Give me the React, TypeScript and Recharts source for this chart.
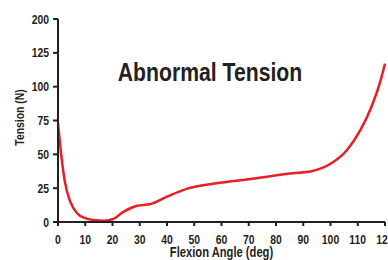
import { LineChart, Line, XAxis, YAxis } from 'recharts'

// flexion angle (deg) and tension (N)
const angles = [0, 1, 2.5, 4.5, 7, 10, 13, 17, 20, 24, 29, 34, 40, 48, 58, 70, 86, 93, 100, 106, 111, 115, 118, 120]
const tension = [73, 53, 30, 15, 6.5, 2.8, 1.5, 1, 2, 7.5, 12, 13.3, 18.7, 25, 28.6, 31.6, 36, 37.5, 43, 53, 68, 85, 102, 117]

const xTicks = [0, 10, 20, 30, 40, 50, 60, 70, 80, 90, 100, 110, 120]
// the top tick sits one step above 125 but is labelled 200 in the original
const yTicks = [0, 25, 50, 75, 100, 125, 150]
const yTickLabels = ['0', '25', '50', '75', '100', '125', '200']

const data = angles.map((a, i) => ({ angle: a, tension: tension[i] }))

const ink = '#231f20'
const font = '"Liberation Sans", Arial, Helvetica, sans-serif'
const squeeze = 0.8 // no narrow face installed, so squash the regular bold

function Narrow({ x, y, anchor, size, dy, rotate, children }: any) {
  const rot = rotate ? ` rotate(${rotate})` : ''
  return (
    <text
      x={0}
      y={0}
      dy={dy}
      transform={`translate(${x},${y})${rot} scale(${squeeze},1)`}
      textAnchor={anchor}
      fontFamily={font}
      fontWeight={700}
      fontSize={size}
      fill={ink}
    >
      {children}
    </text>
  )
}

const XTick = ({ x, y, payload }: any) => (
  <Narrow x={x} y={y} anchor="middle" size={13} dy="0.71em">
    {payload.value}
  </Narrow>
)

const YTick = ({ x, y, payload }: any) => (
  <Narrow x={x} y={y} anchor="end" size={13} dy="0.355em">
    {yTickLabels[yTicks.indexOf(payload.value)]}
  </Narrow>
)

export default function App() {
  return (
    <div style={{ position: 'absolute', left: 0, top: 0, width: 388, height: 260, background: '#fff' }}>
      <LineChart width={388} height={260} data={data} margin={{ top: 19, right: 3, bottom: 0, left: 0 }}>
        <XAxis
          dataKey="angle"
          type="number"
          domain={[0, 120]}
          ticks={xTicks}
          interval={0}
          height={38}
          tickSize={4}
          tickMargin={9}
          stroke={ink}
          strokeWidth={2}
          tick={<XTick />}
          label={{
            content: ({ viewBox }: any) => (
              <Narrow x={viewBox.x + viewBox.width / 2} y={viewBox.y + viewBox.height - 3} anchor="middle" size={14}>
                Flexion Angle (deg)
              </Narrow>
            ),
          }}
        />
        <YAxis
          type="number"
          domain={[0, 150]}
          ticks={yTicks}
          interval={0}
          width={58}
          tickSize={5}
          tickMargin={4}
          stroke={ink}
          strokeWidth={2}
          tick={<YTick />}
          label={{
            content: ({ viewBox }: any) => (
              <Narrow x={viewBox.x + 24} y={viewBox.y + viewBox.height / 2 - 3} anchor="middle" size={13} rotate={-90}>
                Tension (N)
              </Narrow>
            ),
          }}
        />
        <Line
          type="monotone"
          dataKey="tension"
          stroke="#ec1c24"
          strokeWidth={2.5}
          dot={false}
          isAnimationActive={false}
        />
      </LineChart>
      <div
        style={{
          position: 'absolute',
          left: 60,
          width: 300,
          top: 58.6,
          textAlign: 'center',
          fontFamily: font,
          fontWeight: 700,
          fontSize: 26.5,
          lineHeight: '26.5px',
          color: ink,
          whiteSpace: 'nowrap',
          transform: `scaleX(${squeeze})`,
        }}
      >
        Abnormal Tension
      </div>
    </div>
  )
}
